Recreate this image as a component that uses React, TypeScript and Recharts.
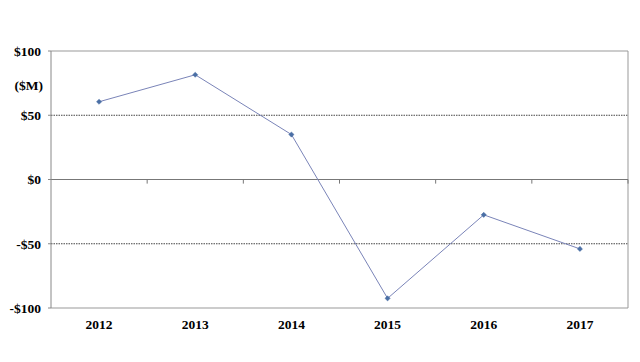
import React from 'react';
import { LineChart, Line, XAxis, YAxis, ReferenceLine } from 'recharts';

const years = ['2012', '2013', '2014', '2015', '2016', '2017'];
const values = [60.5, 81.5, 35, -92.5, -27.5, -54];
const yTicks = [-100, -50, 0, 50, 100];
const boundaries = [1, 2, 3, 4, 5, 6];

const data = years.map((y, i) => ({ x: i + 0.5, year: y, value: values[i] }));

const fontFamily = '"Liberation Serif", "Times New Roman", serif';
const tickStyle = { fontFamily, fontWeight: 700, fontSize: 13.5, fill: '#000' };

const fmtY = (v: number) => (v < 0 ? `-$${Math.abs(v)}` : `$${v}`);
const fmtX = (v: number) => years[Math.round(v - 0.5)] ?? '';

const Diamond = (props: any) => {
  const { cx, cy } = props;
  if (cx == null || cy == null) return null;
  const s = 2.6;
  return (
    <path
      d={`M${cx},${cy - s} L${cx + s},${cy} L${cx},${cy + s} L${cx - s},${cy} Z`}
      fill="#4a6fa5"
      stroke="#4a6fa5"
      strokeWidth={0.5}
    />
  );
};

export default function App() {
  return (
    <div style={{ position: 'absolute', left: 0, top: 0, width: 640, height: 362, background: '#fff' }}>
      <LineChart
        width={640}
        height={362}
        data={data}
        margin={{ top: 51, right: 12, bottom: 0, left: 0 }}
      >
        <XAxis
          dataKey="x"
          type="number"
          domain={[0, 6]}
          ticks={data.map((d) => d.x)}
          tickFormatter={fmtX}
          height={54}
          axisLine={{ stroke: '#999' }}
          tickLine={false}
          tickMargin={5}
          tick={tickStyle}
        />
        <YAxis
          type="number"
          domain={[-100, 100]}
          ticks={yTicks}
          tickFormatter={fmtY}
          width={51}
          axisLine={{ stroke: '#888' }}
          tickLine={{ stroke: '#888' }}
          tickSize={3}
          tickMargin={7}
          tick={tickStyle}
          interval={0}
        />
        <ReferenceLine y={50} stroke="#444" strokeDasharray="1.5 1" strokeWidth={1} />
        <ReferenceLine y={-50} stroke="#444" strokeDasharray="1.5 1" strokeWidth={1} />
        <ReferenceLine y={100} stroke="#999" strokeWidth={1} />
        <ReferenceLine x={6} stroke="#999" strokeWidth={1} />
        <ReferenceLine y={0} stroke="#777" strokeWidth={1} />
        {boundaries.map((b) => (
          <ReferenceLine
            key={b}
            segment={[
              { x: b, y: 0 },
              { x: b, y: -3.2 },
            ]}
            stroke="#777"
            strokeWidth={1}
          />
        ))}
        <Line
          type="linear"
          dataKey="value"
          stroke="#7a84b8"
          strokeWidth={1}
          dot={<Diamond />}
          activeDot={false}
          isAnimationActive={false}
        />
      </LineChart>
      <div
        style={{
          position: 'absolute',
          left: 0,
          width: 43,
          top: 77,
          textAlign: 'right',
          fontFamily,
          fontWeight: 700,
          fontSize: 13.5,
          lineHeight: '18px',
        }}
      >
        ($M)
      </div>
    </div>
  );
}
